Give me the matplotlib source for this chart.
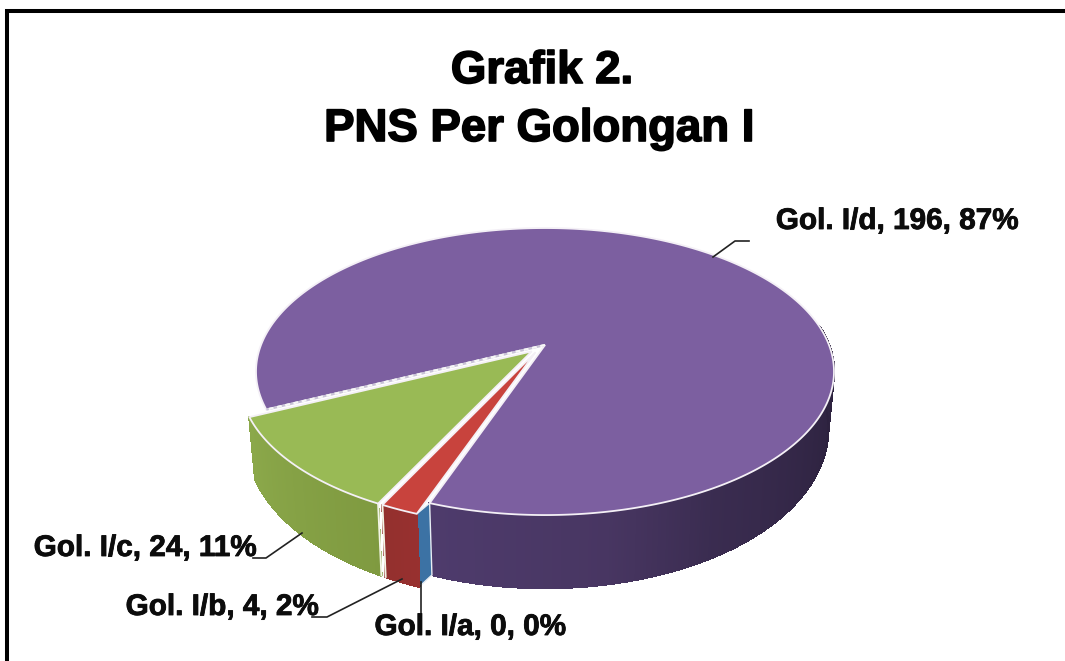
import numpy as np
import matplotlib
matplotlib.use("Agg")
import matplotlib.pyplot as plt
import matplotlib.patheffects as pe
from matplotlib.collections import PolyCollection, LineCollection
from matplotlib.colors import to_rgb

# ---- data ----
categories = ["Gol. I/a", "Gol. I/b", "Gol. I/c", "Gol. I/d"]
values = [0, 4, 24, 196]
percent_labels = ["0%", "2%", "11%", "87%"]
title_lines = ["Grafik 2.", "PNS Per Golongan I"]

# ---- style ----
top_colors = ["#4F81BD", "#C8433D", "#99BA55", "#7C5FA0"]
explode = [0.0616, 0.0616, 0.065, 0.0]
explode_dir = [32.4, 32.4, 45.3, 0.0]
first_angle = 19.6
CX, CY, SX, SY, P = 545, 345, 284, 138.6, 0.185
FONT = "Liberation Sans"

fig = plt.figure(figsize=(10.65, 6.61), dpi=100, facecolor="white")
ax = fig.add_axes([0, 0, 1, 1])
ax.set_xlim(0, 1065)
ax.set_ylim(661, 0)
ax.axis("off")


def project(theta_deg, r=1.0, e=0.0, e_theta=0.0, depth=False):
    """Perspective projection of a point of the pie (angle clockwise from front)."""
    th, eth = np.radians(theta_deg), np.radians(e_theta)
    X = -r * np.sin(th) - e * np.sin(eth)
    Y = -r * np.cos(th) - e * np.cos(eth)
    w = 1 + P * Y
    x, y = X / w, Y / w
    px, py = CX + SX * x, CY - SY * y
    if depth:
        px = CX + (px - CX) * 0.98
        py = py + (53 - 20 * Y)
    return np.column_stack([px, py]) if np.ndim(px) else np.array([px, py])


total = sum(values)
spans = [v / total * 360 for v in values]
starts = first_angle + np.concatenate([[0], np.cumsum(spans)[:-1]])
ends = starts + np.array(spans)


def wall(t0, t1, e, e_t, anchors, cols, z):
    ts = np.linspace(t0, t1, max(int(abs(t1 - t0) * 2), 2))
    top = project(ts, e=e, e_theta=e_t)
    bot = project(ts, e=e, e_theta=e_t, depth=True)
    quads, fcs, segs = [], [], []
    rgb = np.array([to_rgb(c) for c in cols])
    for i in range(len(ts) - 1):
        quads.append([top[i], top[i + 1], bot[i + 1], bot[i]])
        segs.append([bot[i], bot[i + 1]])
        tm = (ts[i] + ts[i + 1]) / 2
        fcs.append([np.interp(tm, anchors, rgb[:, k]) for k in range(3)])
    ax.add_collection(PolyCollection(quads, facecolors=fcs, edgecolors=fcs,
                                     linewidths=1.0, antialiaseds=False, zorder=z))
    ax.add_collection(LineCollection(segs, colors=fcs, linewidths=1.0, zorder=z))


def top_face(i, z):
    ts = np.linspace(starts[i], ends[i], max(int(spans[i] * 2), 2))
    rim = project(ts, e=explode[i], e_theta=explode_dir[i])
    apex = project(0.0, r=0.0, e=explode[i], e_theta=explode_dir[i])
    pts = np.vstack([apex, rim])
    ax.fill(pts[:, 0], pts[:, 1], facecolor=top_colors[i], edgecolor="#F4F0F6",
            linewidth=1.3, joinstyle="miter", zorder=z)


# side walls
wall(262, starts[0] + 360, 0, 0, [262, 290, 330, 350, 379.6],
     ["#2A1F3A", "#2E2340", "#3A2C50", "#483662", "#4E3B6C"], 2)

# zero-size slice: the wall joining the purple corner and the red corner
a = project(starts[0])
b = project(starts[0], e=explode[0], e_theta=explode_dir[0])
a2 = project(starts[0], depth=True)
b2 = project(starts[0], e=explode[0], e_theta=explode_dir[0], depth=True)
q = np.array([a, b, b2, a2])
ax.fill(q[:, 0], q[:, 1], facecolor="#3C72A4", edgecolor="#E8EEF4", linewidth=1.0, zorder=3)

wall(starts[1], ends[1], explode[1], explode_dir[1], [starts[1], ends[1]], ["#98302F", "#93302E"], 4)
wall(starts[2], ends[2], explode[2], explode_dir[2], [starts[2], ends[2]], ["#7F9A40", "#8BA84A"], 5)

# vertical pale seams on the slice walls
for th, e_val, m in [(ends[1], explode[1], explode_dir[1]), (starts[2], explode[2], explode_dir[2])]:
    s = np.array([project(th, e=e_val, e_theta=m), project(th, e=e_val, e_theta=m, depth=True)])
    ax.plot(s[:, 0], s[:, 1], color="#F2F4E6", lw=1.4, zorder=6)

# top faces
top_face(3, 7)
top_face(1, 8)
top_face(2, 9)

# dashed pale seam on purple / green border
s = np.array([project(0.0, r=0.0), project(ends[2])])
ax.plot(s[:, 0], s[:, 1], color="#C9C3D6", lw=1.6, zorder=8, solid_capstyle="butt")
ax.plot(s[:, 0], s[:, 1], color="#F7F7F7", lw=1.6, dashes=(2.2, 1.6), zorder=8)

# leader lines
leaders = [
    ([421, 421], [582, 613]),
    ([402, 327, 312], [579, 617, 617]),
    ([302, 266, 253], [533, 558, 558]),
    ([713, 735, 749], [257, 241, 241]),
]
for lx, ly in leaders:
    ax.plot(lx, ly, color="#222222", lw=1.2, zorder=10, solid_joinstyle="round")

# data labels
label_pos = [(470.5, 627), (222.5, 607), (145.5, 548), (897.5, 221)]
for cat, val, pct, (lx, ly) in zip(categories, values, percent_labels, label_pos):
    t = ax.text(lx, ly, f"{cat}, {val}, {pct}", ha="center", va="center",
                fontsize=21.4, fontweight="bold", family=FONT, color="#0C0C0C", zorder=11)
    t.set_path_effects([pe.withStroke(linewidth=0.6, foreground="#0C0C0C")])

# title
for line, (tx, ty) in zip(title_lines, [(542, 71), (539, 129)]):
    t = ax.text(tx, ty, line, ha="center", va="center", fontsize=32.8,
                fontweight="bold", family=FONT, color="black", zorder=11)
    t.set_path_effects([pe.withStroke(linewidth=1.2, foreground="black")])

# chart frame (right and bottom sides are cropped away in the reference)
ax.plot([7, 7, 1065], [661, 11, 11], color="black", lw=2.9, solid_joinstyle="miter",
        solid_capstyle="butt", zorder=12)

fig.savefig("out.png", dpi=100, facecolor="white")
